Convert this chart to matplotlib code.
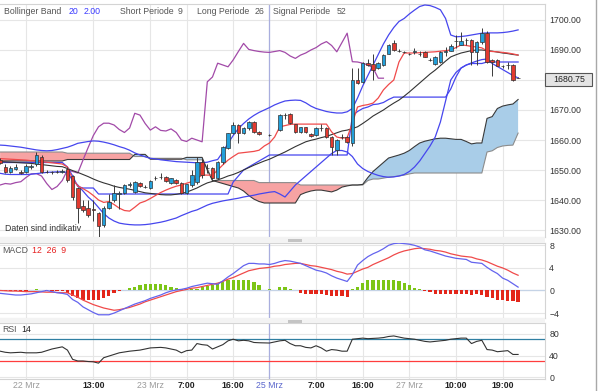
import numpy as np
import matplotlib
matplotlib.use("Agg")
import matplotlib.pyplot as plt
from matplotlib.patches import Rectangle

plt.rcParams["font.family"] = ["Liberation Sans", "DejaVu Sans"]

W, H = 600, 391

# hourly slots, slot 0 = 22 Mrz 0:00 ; None = no bar in that hour
slots = np.arange(-5, 96)

opens = [1653.3, 1651.0, 1649.3, 1650.3, 1649.2, 1649.3, 1651.0, 1652.0, 1654.5, 1649.5,
         1649.2, 1649.4, 1649.3, 1650.5, 1648.0, 1644.0, 1638.0, 1637.3, 1637.0, 1635.7,
         1631.7, 1637.3, 1640.0, 1642.0, 1642.3, 1645.0, 1642.7, 1645.7, 1644.4, 1644.0,
         1647.2, 1647.6, 1647.6, 1645.7, 1646.7, 1645.7, 1642.3, 1645.0, 1646.0, 1652.7,
         1650.6, 1650.7, 1647.3, 1652.7, 1657.3, 1662.3, 1665.0, 1662.3, 1664.0, 1666.0,
         1662.7, None, 1661.8, None, 1663.3, 1668.2, 1668.7, 1665.3, 1662.7, 1664.3,
         1662.0, 1661.7, 1664.1, 1664.0, 1661.0, 1656.7, 1660.9, 1661.0, 1659.0, 1680.0,
         1679.3, 1685.7, 1685.3, 1684.0, 1685.0, 1688.7, 1692.3, 1689.8, 1689.4, 1688.6,
         1689.4, 1688.8, 1689.3, 1686.8, 1685.3, 1686.0, 1689.4, 1689.7, 1692.9, 1691.7,
         1693.2, 1693.3, 1689.3, 1692.7, 1695.7, 1686.7, 1686.7, 1684.6, 1685.0, 1685.0,
         1680.6]
highs = [1654.0, 1652.0, 1651.3, 1652.0, 1650.0, 1652.0, 1652.0, 1656.0, 1655.0, 1650.0,
         1649.8, 1650.0, 1650.5, 1651.0, 1648.5, 1644.5, 1640.0, 1640.0, 1640.0, 1636.0,
         1638.0, 1642.0, 1645.0, 1643.0, 1645.5, 1646.0, 1646.5, 1646.0, 1645.0, 1646.7,
         1648.0, 1649.0, 1648.0, 1647.5, 1647.0, 1646.0, 1645.5, 1650.0, 1654.3, 1654.0,
         1652.0, 1651.0, 1653.0, 1658.0, 1662.5, 1666.0, 1665.5, 1664.5, 1666.5, 1666.3,
         1663.0, None, 1662.0, None, 1668.5, 1669.0, 1669.0, 1665.5, 1664.5, 1664.5,
         1662.5, 1664.5, 1665.5, 1664.3, 1661.3, 1660.5, 1662.0, 1661.3, 1684.0, 1684.0,
         1686.0, 1687.0, 1688.5, 1686.0, 1688.5, 1692.0, 1693.3, 1690.2, 1689.8, 1689.0,
         1690.5, 1689.7, 1689.6, 1687.2, 1688.0, 1689.5, 1691.0, 1692.0, 1695.0, 1696.0,
         1694.0, 1693.7, 1693.0, 1697.3, 1696.3, 1687.0, 1687.0, 1685.0, 1686.0, 1685.3,
         1681.0]
lows = [1652.0, 1649.0, 1649.0, 1650.0, 1648.7, 1649.0, 1650.5, 1651.5, 1649.0, 1649.0,
        1648.8, 1649.0, 1649.0, 1646.0, 1640.0, 1632.3, 1636.0, 1634.5, 1633.0, 1627.7,
        1631.0, 1637.0, 1639.5, 1637.0, 1642.0, 1644.5, 1642.5, 1644.5, 1644.0, 1643.8,
        1646.8, 1647.0, 1646.0, 1645.5, 1645.5, 1642.0, 1642.0, 1644.5, 1645.5, 1647.5,
        1649.0, 1647.0, 1647.0, 1652.0, 1657.0, 1662.0, 1659.0, 1662.0, 1663.5, 1662.5,
        1661.7, None, 1661.5, None, 1663.0, 1667.0, 1665.5, 1662.5, 1662.5, 1662.5,
        1661.0, 1661.5, 1663.0, 1660.7, 1655.0, 1655.0, 1660.5, 1659.0, 1658.0, 1678.5,
        1679.0, 1684.5, 1680.0, 1683.5, 1684.5, 1688.5, 1689.5, 1689.4, 1689.0, 1688.2,
        1688.5, 1688.0, 1687.5, 1686.4, 1685.0, 1685.8, 1688.0, 1689.5, 1690.5, 1691.5,
        1691.7, 1685.0, 1685.0, 1692.0, 1685.5, 1681.3, 1684.5, 1684.0, 1683.5, 1679.5,
        1680.5]
closes = [1652.3, 1649.3, 1650.7, 1651.0, 1649.0, 1651.3, 1651.2, 1655.0, 1649.3, 1649.2,
          1649.4, 1649.2, 1649.6, 1646.7, 1641.0, 1637.3, 1636.7, 1635.0, 1636.8, 1631.3,
          1637.3, 1639.3, 1642.3, 1642.5, 1645.0, 1645.3, 1646.0, 1644.7, 1644.3, 1646.3,
          1647.3, 1647.7, 1646.2, 1647.3, 1645.7, 1642.3, 1645.3, 1648.3, 1652.7, 1648.3,
          1650.7, 1647.3, 1652.7, 1657.7, 1662.3, 1665.0, 1662.3, 1664.0, 1666.0, 1662.7,
          1662.0, None, 1661.7, None, 1668.3, 1668.3, 1665.7, 1662.7, 1664.3, 1662.7,
          1661.3, 1664.0, 1664.0, 1661.0, 1657.7, 1660.0, 1661.0, 1659.3, 1680.0, 1679.0,
          1685.7, 1685.0, 1683.3, 1685.7, 1688.3, 1691.7, 1690.0, 1689.7, 1689.3, 1688.5,
          1689.5, 1688.7, 1687.7, 1686.7, 1687.7, 1689.3, 1689.5, 1691.3, 1693.0, 1693.0,
          1693.3, 1689.3, 1692.7, 1695.7, 1686.0, 1686.0, 1684.7, 1684.7, 1684.9, 1680.0,
          1680.75]

bb_upper = [1658.3, 1658.2, 1658.0, 1657.8, 1657.6, 1657.3, 1657.0, 1656.7, 1656.5, 1656.4,
            1656.5, 1656.8, 1657.2, 1657.6, 1658.2, 1658.9, 1659.2, 1659.5, 1659.7, 1659.6,
            1659.3, 1658.9, 1658.4, 1657.8, 1657.3, 1656.6, 1655.7, 1655.0, 1654.4, 1653.9,
            1653.7, 1653.4, 1653.2, 1653.0, 1652.8, 1652.7, 1652.6, 1652.5, 1652.4, 1652.4,
            1652.6, 1653.1, 1653.5, 1656.0, 1658.9, 1661.5, 1663.8, 1665.5, 1667.0, 1668.2,
            1669.2, 1670.0, 1670.8, 1671.7, 1672.4, 1673.0, 1673.2, 1673.3, 1673.2, 1672.4,
            1671.3, 1670.5, 1670.0, 1669.5, 1669.2, 1669.0, 1669.0, 1669.4, 1670.5, 1674.0,
            1678.0, 1681.5, 1685.0, 1688.5, 1692.0, 1695.0, 1697.5, 1699.5, 1700.5, 1702.0,
            1703.3, 1704.5, 1705.0, 1704.8, 1704.2, 1703.4, 1700.5, 1695.0, 1694.4, 1694.5,
            1694.7, 1695.0, 1695.3, 1695.6, 1695.7, 1695.7, 1695.7, 1695.8, 1696.0, 1696.3,
            1696.7]
bb_middle = [1652.8, 1652.7, 1652.6, 1652.5, 1652.4, 1652.3, 1652.2, 1652.0, 1651.8, 1651.6,
             1651.4, 1651.2, 1651.1, 1650.5, 1649.8, 1649.2, 1648.5, 1647.8, 1647.0, 1646.3,
             1645.7, 1645.2, 1644.6, 1644.2, 1643.9, 1643.6, 1643.2, 1642.8, 1642.4, 1642.2,
             1642.0, 1641.8, 1641.7, 1641.7, 1641.9, 1642.2, 1642.6, 1643.3, 1644.0, 1644.9,
             1645.7, 1646.2, 1646.7, 1647.3, 1648.0, 1648.5, 1649.2, 1650.0, 1650.8, 1651.6,
             1652.3, 1653.0, 1653.6, 1654.4, 1655.2, 1656.0, 1656.9, 1657.8, 1658.6, 1659.4,
             1659.9, 1660.3, 1660.8, 1661.2, 1661.8, 1662.4, 1663.0, 1663.3, 1663.8, 1664.4,
             1665.5, 1666.7, 1668.0, 1669.0, 1670.0, 1671.2, 1672.3, 1673.3, 1674.6, 1676.0,
             1677.5, 1679.0, 1680.5, 1682.0, 1683.3, 1684.8, 1686.3, 1687.7, 1688.4, 1689.0,
             1689.4, 1689.8, 1690.0, 1690.0, 1689.8, 1689.6, 1689.3, 1689.0, 1688.8, 1688.5,
             1688.3]
bb_lower = [1648.9, 1648.6, 1648.5, 1648.5, 1648.5, 1648.5, 1648.6, 1648.8, 1649.0, 1649.2,
            1649.3, 1649.4, 1649.4, 1649.2, 1646.5, 1645.0, 1643.0, 1641.0, 1639.5, 1637.5,
            1635.5, 1634.0, 1633.0, 1632.3, 1632.0, 1631.8, 1631.7, 1631.7, 1631.8, 1632.0,
            1632.3, 1632.6, 1633.0, 1633.5, 1634.0, 1634.8, 1635.5, 1636.2, 1636.7, 1637.5,
            1638.3, 1638.9, 1639.3, 1639.7, 1640.0, 1640.3, 1640.6, 1641.0, 1641.3, 1641.6,
            1642.0, 1642.3, 1642.6, 1642.8, 1642.0, 1641.0, 1643.0, 1645.0, 1646.5, 1648.0,
            1649.5, 1651.0, 1652.5, 1654.0, 1655.5, 1656.5, 1656.5, 1656.0, 1654.5, 1652.0,
            1650.5, 1649.5, 1648.8, 1648.2, 1647.8, 1647.6, 1647.7, 1648.0, 1648.5, 1649.5,
            1651.0, 1653.0, 1655.5, 1658.0, 1661.0, 1666.0, 1673.0, 1680.0, 1682.5, 1684.0,
            1685.0, 1685.7, 1686.3, 1686.8, 1687.0, 1685.5, 1684.5, 1683.5, 1682.5, 1681.5,
            1680.7]
tenkan = [1653.8, 1653.7, 1653.6, 1653.5, 1653.4, 1653.3, 1653.1, 1653.0, 1652.8, 1652.6,
          1652.4, 1652.2, 1652.0, 1651.0, 1647.0, 1644.7, 1643.8, 1642.8, 1641.5, 1640.0,
          1639.2, 1639.5, 1638.5, 1637.3, 1636.5, 1636.3, 1637.6, 1639.0, 1639.6, 1640.5,
          1641.5, 1642.5, 1643.3, 1644.0, 1644.6, 1645.0, 1645.6, 1646.1, 1647.2, 1648.3,
          1648.3, 1648.3, 1650.0, 1651.7, 1653.3, 1654.5, 1655.6, 1655.8, 1656.0, 1656.2,
          1656.6, 1658.0, 1659.0, 1661.0, 1664.4, 1664.8, 1665.2, 1665.3, 1665.3, 1665.3,
          1665.3, 1665.3, 1665.3, 1665.3, 1662.7, 1661.0, 1660.6, 1660.8, 1665.6, 1671.0,
          1671.5, 1671.8, 1672.3, 1674.0, 1676.7, 1678.5, 1680.0, 1686.0, 1689.0, 1689.0,
          1689.0, 1689.1, 1689.2, 1689.3, 1689.4, 1689.6, 1689.8, 1690.0, 1690.8, 1691.7,
          1691.5, 1691.2, 1691.0, 1690.7, 1689.7, 1689.5, 1689.4, 1689.2, 1689.0, 1688.7,
          1688.3]
kijun = [1652.5, 1652.5, 1652.5, 1652.5, 1652.5, 1652.5, 1652.5, 1652.5, 1652.5, 1652.5,
         1652.5, 1652.5, 1652.5, 1651.0, 1648.0, 1644.5, 1644.0, 1644.0, 1644.0, 1642.0,
         1642.0, 1642.0, 1642.0, 1642.0, 1642.0, 1642.0, 1642.0, 1642.0, 1642.0, 1642.0,
         1642.0, 1642.0, 1642.0, 1642.0, 1642.0, 1642.0, 1642.0, 1642.0, 1642.0, 1642.0,
         1642.0, 1642.0, 1642.0, 1642.0, 1642.0, 1646.0, 1648.0, 1650.0, 1651.0, 1652.0,
         1653.0, 1654.0, 1655.0, 1655.0, 1655.0, 1655.0, 1655.0, 1655.0, 1655.0, 1655.0,
         1655.0, 1655.0, 1655.0, 1655.0, 1655.0, 1655.0, 1655.0, 1655.0, 1668.0, 1669.5,
         1670.5, 1671.0, 1671.8, 1672.0, 1672.5, 1673.5, 1674.3, 1674.3, 1674.3, 1674.3,
         1674.3, 1674.3, 1674.3, 1674.3, 1674.3, 1674.3, 1674.3, 1677.0, 1681.0, 1684.0,
         1685.0, 1685.5, 1685.5, 1685.5, 1686.0, 1686.0, 1686.0, 1686.0, 1686.0, 1686.0,
         1686.0]
chikou = [1645.0, 1645.5, 1645.3, 1645.8, 1646.1, 1647.5, 1648.7, 1648.8, 1648.0, 1645.5,
          1643.5, 1644.5, 1646.5, 1650.0, 1649.5, 1649.0, 1653.3, 1657.5, 1661.5, 1664.4,
          1665.6, 1665.6, 1665.0, 1663.5, 1662.5, 1664.0, 1668.9, 1668.3, 1665.5, 1663.3,
          1664.4, 1663.2, 1663.0, 1663.7, 1662.5, 1660.0, 1659.5, 1660.6, 1660.0, 1659.4,
          1679.4, 1681.0, 1685.6, 1685.0, 1684.4, 1686.7, 1689.5, 1692.2, 1690.2, 1689.8,
          1689.5, 1689.3, 1689.2, 1689.5, 1689.8, 1689.2, 1688.0, 1687.2, 1688.3, 1689.0,
          1690.0, 1690.8, 1692.0, 1692.8, 1691.5, 1689.4, 1692.5, 1695.6, 1686.1, 1686.0,
          1685.6, 1685.0, 1684.0, 1680.6, 1680.6] + [None] * 26
span_a = [1653.0] * 13 + [1653.5] * 13 + [1655.2] * 3 + [1653.6] * 7 + [1654.2] * 4 + [
          1650.0, 1646.5, 1646.0, 1645.5, 1645.0, 1644.5, 1644.0, 1643.0, 1641.5, 1640.3,
          1639.5, 1639.0, 1639.0, 1639.0, 1639.0, 1639.0, 1639.0, 1639.0, 1641.8, 1642.5,
          1643.0, 1643.3, 1643.3, 1643.0, 1642.7, 1643.3, 1644.3, 1644.7, 1645.0, 1645.0,
          1645.2, 1647.5, 1649.5, 1651.0, 1652.5, 1654.0, 1654.5, 1655.0, 1655.6, 1656.5,
          1657.8, 1659.0, 1659.6, 1660.0, 1660.4, 1660.6, 1660.6, 1660.4, 1660.2, 1660.2,
          1659.5, 1658.7, 1659.0, 1659.0, 1667.2, 1667.8, 1670.5, 1671.3, 1671.7, 1672.0,
          1673.5]
span_b = [1656.0] * 13 + [1655.6] * 13 + [1654.5] * 3 + [1653.9] * 7 + [1653.4] * 4 + [
          1650.5, 1646.5, 1646.5, 1646.5, 1646.5, 1646.5, 1646.5, 1646.5, 1646.5, 1646.5,
          1645.8, 1645.8, 1645.8, 1645.8, 1645.8, 1645.8, 1645.8, 1645.8, 1645.0, 1645.0,
          1645.0, 1645.0, 1645.0, 1645.0, 1645.0, 1645.0, 1645.0, 1645.0, 1645.0, 1645.0,
          1645.0, 1646.5, 1647.0, 1647.0, 1647.3, 1647.6, 1647.8, 1648.0, 1648.3, 1648.7,
          1649.0, 1649.0, 1649.0, 1649.0, 1649.0, 1649.0, 1649.0, 1649.0, 1649.0, 1649.0,
          1649.0, 1649.0, 1649.0, 1649.0, 1656.0, 1656.4, 1657.5, 1658.0, 1658.2, 1658.3,
          1662.3]

macd = [-0.5, -0.6, -0.7, -0.8, -0.8, -0.7, -0.6, -0.4, -0.2, 0.0,
        -0.2, -0.4, -0.5, -0.7, -1.6, -2.1, -2.9, -3.4, -3.9, -4.3,
        -4.3, -4.3, -4.0, -3.6, -3.2, -2.8, -2.4, -2.1, -1.8, -1.4,
        -1.1, -0.8, -0.4, -0.1, 0.1, 0.2, 0.4, 0.7, 0.9, 1.1,
        1.3, 1.2, 1.1, 1.7, 2.4, 3.0, 3.7, 4.4, 4.8, 4.8,
        4.7, 4.7, 4.6, 4.8, 5.1, 5.3, 5.2, 5.0, 4.8, 4.4,
        4.0, 3.6, 3.4, 3.1, 2.6, 2.2, 1.9, 1.6, 2.8, 4.5,
        5.3, 6.0, 6.5, 6.9, 7.4, 8.0, 8.3, 8.4, 8.3, 8.2,
        8.0, 7.7, 7.2, 7.0, 6.7, 6.4, 6.1, 5.9, 5.7, 5.6,
        5.5, 5.0, 4.9, 4.8, 4.1, 3.5, 3.0, 2.2, 1.8, 1.2,
        0.6]
signal = [0.0, -0.05, -0.1, -0.1, -0.15, -0.2, -0.2, -0.2, -0.25, -0.3,
          -0.3, -0.35, -0.4, -0.4, -0.8, -1.2, -1.7, -2.1, -2.5, -2.8,
          -3.1, -3.3, -3.5, -3.4, -3.2, -3.0, -2.7, -2.4, -2.0, -1.7,
          -1.4, -1.1, -0.8, -0.5, -0.2, 0.0, 0.2, 0.4, 0.5, 0.7,
          0.9, 1.1, 1.3, 1.6, 2.0, 2.3, 2.7, 3.1, 3.5, 3.7,
          3.9, 4.0, 4.1, 4.3, 4.4, 4.6, 4.7, 4.8, 4.8, 4.6,
          4.4, 4.3, 4.1, 3.9, 3.7, 3.4, 3.2, 2.9, 3.0, 3.4,
          3.8, 4.1, 4.6, 5.0, 5.4, 5.8, 6.3, 6.7, 7.0, 7.2,
          7.4, 7.5, 7.4, 7.3, 7.1, 7.0, 6.8, 6.5, 6.3, 6.1,
          6.0, 5.9, 5.6, 5.4, 5.1, 4.7, 4.3, 4.0, 3.6, 3.1,
          2.7]
hist = [-0.1, -0.1, -0.1, -0.1, -0.1, -0.05, 0.05, 0.25, 0.05, -0.05,
        -0.1, -0.1, -0.05, -0.5, -0.9, -1.3, -1.6, -1.7, -1.7, -1.6,
        -1.3, -0.9, -0.5, -0.1, 0.15, 0.4, 0.7, 0.9, 1.1, 1.2,
        1.2, 1.1, 1.0, 0.6, 0.4, 0.3, 0.2, 0.3, 0.3, 0.6,
        0.8, 1.0, 1.2, 1.5, 1.8, 1.9, 1.9, 1.9, 1.8, 1.5,
        1.0, None, 0.3, None, 0.6, 0.6, 0.3, 0.1, -0.4, -0.6,
        -0.6, -0.7, -0.7, -0.8, -1.0, -1.0, -1.0, -1.1, 0.2, 0.7,
        1.4, 1.8, 1.9, 1.9, 1.9, 1.9, 1.8, 1.6, 1.3, 0.9,
        0.5, 0.2, -0.1, -0.3, -0.6, -0.7, -0.7, -0.7, -0.7, -0.7,
        -0.7, -0.8, -0.7, -0.8, -1.1, -1.4, -1.6, -1.7, -1.8, -1.9,
        -2.0]
rsi = [48, 46, 45, 45.5, 46, 45, 45, 45, 46, 49,
       52, 54, 56, 50, 33, 30, 30, 29, 28.5, 26,
       36, 39, 42, 45, 46.5, 48, 49, 50, 52, 54,
       54.5, 55, 54, 52, 50, 45, 49, 50, 62, 60,
       59, 52, 56, 60, 67, 70, 67, 68, 67, 64,
       63.5, None, 63, None, 67, 68, 62, 58, 58, 55,
       54, 58, 54, 48, 51, 50, 48, 48, 70, 71,
       72, 71, 71.5, 72, 73, 75, 76, 74, 72, 71,
       70, 68, 66, 65, 66, 67, 68, 70, 71, 72,
       72, 62, 66, 68, 51, 50, 47, 48, 49, 42,
       42]

tick_slots = [0, 13, 24, 31, 40, 47, 56, 65, 74, 83, 92]
tick_labels = ["22 Mrz", "13:00", "23 Mrz", "7:00", "16:00", "25 Mrz",
               "7:00", "16:00", "27 Mrz", "10:00", "19:00"]
tick_colors = ["#9a9a9a", "#222222", "#9a9a9a", "#222222", "#222222", "#5a66cc",
               "#222222", "#222222", "#9a9a9a", "#222222", "#222222"]
tick_weights = ["normal", "bold", "normal", "bold", "bold", "normal",
                "bold", "bold", "normal", "bold", "bold"]


def arr(v):
    return np.array([np.nan if a is None else a for a in v], dtype=float)


def line(ax, v, **kw):
    y = arr(v)
    m = ~np.isnan(y)
    ax.plot(slots[m], y[m], **kw)


def box(x0, y0, x1, y1):
    return [x0 / W, 1 - y1 / H, (x1 - x0) / W, (y1 - y0) / H]


fig = plt.figure(figsize=(6, 3.91), dpi=100, facecolor="white")
ax = fig.add_axes(box(0, 4, 545, 237))
ax_m = fig.add_axes(box(0, 243, 545, 318))
ax_r = fig.add_axes(box(0, 322.5, 545, 379))

xlim = (-26 / 5.18, 519 / 5.18)
GRID = "#e6e6e6"
for a in (ax, ax_m, ax_r):
    a.set_xlim(*xlim)
    a.set_facecolor("white")
    for sp in a.spines.values():
        sp.set_color("#d4d4d4")
        sp.set_linewidth(0.8)
    a.spines["left"].set_visible(False)
    a.yaxis.tick_right()
    a.tick_params(axis="y", length=0, pad=3, labelsize=6.3, labelcolor="#333333")
    a.set_xticks(tick_slots)
    a.tick_params(axis="x", length=0)
    a.grid(True, color=GRID, lw=0.8)
    a.set_axisbelow(True)
    a.axvline(47, color="#a9aede", lw=0.9, zorder=1)
ax.set_xticklabels([])
ax_m.set_xticklabels([])

# ---- main panel
ax.set_ylim(1627.67, 1705.33)
ax.set_yticks(range(1630, 1701, 10))
# the 1680 label sits under the last-price box
ax.set_yticklabels(["" if v == 1680 else f"{v:.2f}" for v in range(1630, 1701, 10)])

sa, sb = arr(span_a), arr(span_b)
ax.fill_between(slots, sa, sb, where=sa >= sb, interpolate=True,
                color="#a9cde8", lw=0, zorder=2)
ax.fill_between(slots, sa, sb, where=sa <= sb, interpolate=True,
                color="#f7a3a3", lw=0, zorder=2)
ax.plot(slots, sb, color="#8c8c8c", lw=0.8, zorder=2)
ax.plot(slots, sa, color="#3a3a3a", lw=0.8, zorder=2)

line(ax, chikou, color="#a24aa8", lw=0.9, zorder=3)
line(ax, bb_upper, color="#4646ee", lw=0.9, zorder=3)
line(ax, bb_lower, color="#4646ee", lw=0.9, zorder=3)
line(ax, kijun, color="#4646ee", lw=0.9, zorder=3)
line(ax, bb_middle, color="#333333", lw=0.8, zorder=3)
line(ax, tenkan, color="#f04a4a", lw=0.9, zorder=3)

for s, o, h, l, c in zip(slots, opens, highs, lows, closes):
    if o is None:
        continue
    col = "#22a0da" if c > o else "#e23a30"
    ax.vlines(s, l, h, color="#3a3a3a", lw=0.7, zorder=5)
    ax.add_patch(Rectangle((s - 0.34, min(o, c)), 0.68, max(abs(c - o), 0.12),
                           fc=col, ec="#333333", lw=0.5, zorder=6))

# ---- MACD panel
ax_m.set_ylim(-4.87, 8.41)
ax_m.set_yticks([-4, 0, 4, 8])
ax_m.axhline(0, color="#c5d3e6", lw=0.9, zorder=1)
hv = arr(hist)
hm = ~np.isnan(hv)
ax_m.bar(slots[hm], hv[hm], width=0.62,
         color=["#7cc516" if v >= 0 else "#e3261a" for v in hv[hm]], zorder=2)
line(ax_m, signal, color="#f04a4a", lw=0.9, zorder=3)
line(ax_m, macd, color="#6464ee", lw=0.9, zorder=3)

# ---- RSI panel
ax_r.set_ylim(-3.1, 100.7)
ax_r.set_yticks([0, 40, 80])
ax_r.axhline(70, color="#2f7fa2", lw=0.9, zorder=2)
ax_r.axhline(30, color="#ff3d3d", lw=0.9, zorder=2)
line(ax_r, rsi, color="#333333", lw=0.8, zorder=3)
ax_r.set_xticklabels(tick_labels, fontsize=6.3)
ax_r.tick_params(axis="x", pad=1.5)
for lab, col, fw in zip(ax_r.get_xticklabels(), tick_colors, tick_weights):
    lab.set_color(col)
    lab.set_fontweight(fw)

# ---- texts


def t(x, y, s, col, **kw):
    fig.text(x / W, 1 - y / H, s, color=col, fontsize=6.3, va="center", **kw)


t(4, 12, "Bollinger Band", "#555555")
t(69, 12, "20", "#3a3aff")
t(84, 12, "2.00", "#3a3aff")
t(120, 12, "Short Periode", "#555555")
t(178, 12, "9", "#555555")
t(197, 12, "Long Periode", "#555555")
t(255, 12, "26", "#555555")
t(273, 12, "Signal Periode", "#555555")
t(337, 12, "52", "#555555")
t(5, 228, "Daten sind indikativ", "#333333")
t(2, 251, "MACD", "#555555")
t(32, 251, "12  26  9", "#e62020")
t(2, 330, "RSI", "#555555")
t(21, 330, "14", "#222222")

# last price box
fig.patches.append(Rectangle((545 / W, 1 - 86 / H), 47 / W, 13 / H, transform=fig.transFigure,
                             fc="#e4e4e4", ec="#555555", lw=0.8, zorder=5))
fig.text(569 / W, 1 - 79.5 / H, "1680.75", ha="center", va="center",
         fontsize=6.3, color="#222222", zorder=6)

# panel separators, grippers and right frame
for y0, y1 in ((237, 243), (318, 322.5)):
    fig.patches.append(Rectangle((0, 1 - y1 / H), 545 / W, (y1 - y0) / H,
                                 transform=fig.transFigure, fc="#f3f3f3", ec="none"))
    fig.patches.append(Rectangle((288 / W, 1 - (y0 + 4.5) / H), 14 / W, 2.5 / H,
                                 transform=fig.transFigure, fc="#c4c4c4", ec="none"))
fig.add_artist(plt.Line2D([596 / W, 596 / W], [0, 1], transform=fig.transFigure,
                          color="#a8a8a8", lw=1.0))

fig.savefig("out.png", dpi=100, facecolor="white")
